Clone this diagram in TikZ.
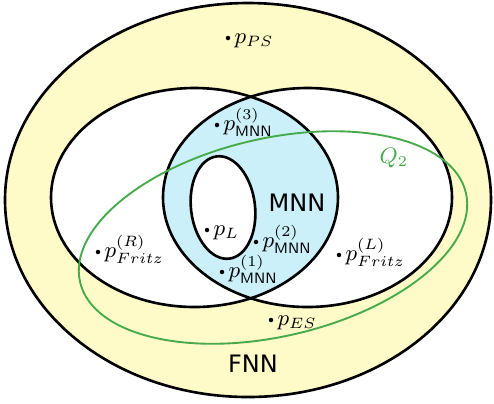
\documentclass[tikz,border=0pt]{standalone}
\usepackage{amsmath}
\usepackage{fontspec}
\newfontfamily\lblfont{DejaVu Sans}
\definecolor{fnnyellow}{RGB}{255,251,200}
\definecolor{mnnblue}{RGB}{204,240,250}
\definecolor{qgreen}{RGB}{70,170,75}
\begin{document}
\begin{tikzpicture}[x=0.4pt,y=-0.4pt,
  outline/.style={draw=black, line width=1.05pt},
  qline/.style={draw=qgreen, line width=0.75pt},
  ptdot/.style={circle, fill=black, inner sep=0pt, minimum size=1.8pt},
  ptlabel/.style={anchor=base west, inner sep=0pt, font=\fontsize{9}{11}\selectfont},
  biglabel/.style={font=\lblfont\fontsize{9.6}{11}\selectfont, inner sep=0pt}]
\useasboundingbox (0,0) rectangle (494,403);
% fills
\fill[fnnyellow] (248,200) ellipse [x radius=243, y radius=197];
\fill[white] (194.5,197.5) ellipse [x radius=143.5, y radius=109.5];
\fill[white] (307.5,197.5) ellipse [x radius=144.5, y radius=109.5];
\begin{scope}
  \clip (194.5,197.5) ellipse [x radius=143.5, y radius=109.5];
  \fill[mnnblue] (307.5,197.5) ellipse [x radius=144.5, y radius=109.5];
\end{scope}
\fill[white, rotate around={7:(223,207.5)}] (223,207.5) ellipse [x radius=32, y radius=51.5];
% outlines
\draw[outline] (248,200) ellipse [x radius=243, y radius=197];
\draw[outline] (194.5,197.5) ellipse [x radius=143.5, y radius=109.5];
\draw[outline] (307.5,197.5) ellipse [x radius=144.5, y radius=109.5];
\draw[outline, rotate around={7:(223,207.5)}] (223,207.5) ellipse [x radius=32, y radius=51.5];
\draw[qline, rotate around={13:(273,237.5)}] (273,237.5) ellipse [x radius=198, y radius=99];
% points
\node[ptdot] (pps) at (228,38) {};
\node[ptdot] (pm3) at (217,125) {};
\node[ptdot] (pl) at (207,230) {};
\node[ptdot] (pm2) at (256,242) {};
\node[ptdot] (pm1) at (222,272) {};
\node[ptdot] (pfr) at (98,252) {};
\node[ptdot] (pfl) at (339,255) {};
\node[ptdot] (pes) at (271,320) {};
\node[ptlabel] (tps) at ([shift={(6,5.5)}]pps.center) {$p_{PS}$};
\node[ptlabel] (tm3) at ([shift={(6,5.5)}]pm3.center) {$p^{(3)}_{\mathsf{MNN}}$};
\node[ptlabel] (tl) at ([shift={(6,5.5)}]pl.center) {$p_{L}$};
\node[ptlabel] (tm2) at ([shift={(6,5.5)}]pm2.center) {$p^{(2)}_{\mathsf{MNN}}$};
\node[ptlabel] (tm1) at ([shift={(6,5.5)}]pm1.center) {$p^{(1)}_{\mathsf{MNN}}$};
\node[ptlabel] (tfr) at ([shift={(6,5.5)}]pfr.center) {$p^{(R)}_{Fritz}$};
\node[ptlabel] (tfl) at ([shift={(6,5.5)}]pfl.center) {$p^{(L)}_{Fritz}$};
\node[ptlabel] (tes) at ([shift={(6,5.5)}]pes.center) {$p_{ES}$};
% labels
\node[biglabel] (mnn) at (297,203) {MNN};
\node[biglabel] (fnn) at (253,364) {FNN};
\node[text=qgreen, inner sep=0pt, font=\fontsize{9}{11}\selectfont] (q2) at (394,158) {$Q_2$};
\end{tikzpicture}
\end{document}
